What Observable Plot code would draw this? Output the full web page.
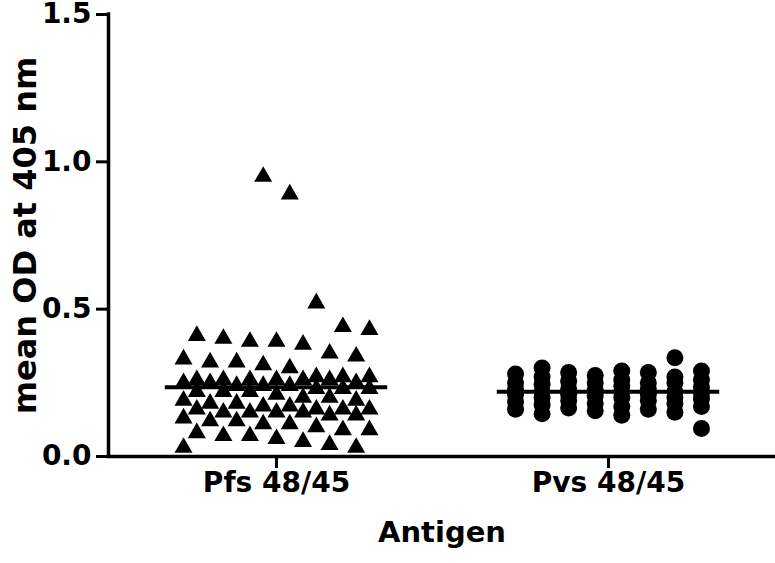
<!DOCTYPE html>
<html><head><meta charset="utf-8">
<script src="https://cdn.jsdelivr.net/npm/d3@7"></script>
<script src="https://cdn.jsdelivr.net/npm/@observablehq/plot@0.6"></script>
<style>
  html, body { margin: 0; padding: 0; background: #fff; }
  #chart svg { display: block; }
</style>
</head><body><div id="chart"></div>
<script>
// ---- data ----
const groups = ["Pfs 48/45", "Pvs 48/45"];
const symbols = ["triangle", "circle"];
const pfsValues = [
  0.95, 0.89, 0.52,
  0.44, 0.43,
  0.41, 0.40, 0.39, 0.39, 0.38,
  0.35, 0.34, 0.33, 0.32, 0.32, 0.31, 0.30,
  0.27, 0.27, 0.27, 0.26, 0.26, 0.26, 0.26, 0.26, 0.26, 0.25, 0.25, 0.25,
  0.24, 0.24, 0.24, 0.23, 0.23, 0.23, 0.22, 0.22, 0.22,
  0.21, 0.20, 0.20, 0.19, 0.19, 0.18, 0.18,
  0.17, 0.17, 0.16, 0.16, 0.16, 0.16, 0.15, 0.15, 0.15, 0.15, 0.14, 0.14,
  0.13, 0.12, 0.12, 0.11, 0.11, 0.10,
  0.09, 0.09, 0.08, 0.07, 0.07, 0.06, 0.05, 0.04, 0.03, 0.03
];
const pvsValues = [
  0.335,
  0.30, 0.29, 0.29, 0.285, 0.285, 0.28, 0.275, 0.27, 0.27,
  0.26, 0.26, 0.255, 0.25, 0.25, 0.25, 0.25, 0.245, 0.24,
  0.235, 0.23, 0.23, 0.23, 0.225, 0.22, 0.22, 0.22, 0.215, 0.21, 0.21, 0.21,
  0.205, 0.20, 0.20, 0.20, 0.195, 0.19, 0.19, 0.185, 0.18, 0.18,
  0.175, 0.17, 0.17, 0.165, 0.16, 0.16, 0.155, 0.15, 0.145, 0.14,
  0.095
];
const yTicks = [0, 0.5, 1.0, 1.5];
const yLabel = "mean OD at 405 nm";
const xLabel = "Antigen";

// ---- layout (column scatter like the original software) ----
const FONT = "'DejaVu Sans', Verdana, sans-serif";
const xDomain = [-0.506, 1.503];
// round-robin the ranked values over columns, stepping k columns each time
function columnLayout(values, gi, nCols, colStep, k, c0) {
  const sorted = values.slice().sort((a, b) => b - a);
  const mid = (nCols - 1) / 2;
  return sorted.map((v, i) => {
    const c = (c0 + i * k) % nCols;
    return {group: gi, value: v, x: gi + (c - mid) * colStep};
  });
}
const pfsPts = columnLayout(pfsValues, 0, 15, 0.040, 2, 6);
const pvsPts = columnLayout(pvsValues, 1, 8, 0.080, 3, 6);
const means = [
  {group: 0, value: d3.mean(pfsValues)},
  {group: 1, value: d3.mean(pvsValues)}
];
const halfLine = 0.335;

const chart = Plot.plot({
  width: 775,
  height: 563,
  marginLeft: 108,
  marginRight: 0,
  marginTop: 14,
  marginBottom: 107,
  style: {fontFamily: FONT, background: "#fff", color: "#000"},
  x: {domain: xDomain, axis: null},
  y: {domain: [0, 1.5], axis: null},
  marks: [
    Plot.dot(pfsPts, {x: "x", y: "value", symbol: () => symbols[0], r: 6.7, fill: "#000", stroke: "none"}),
    Plot.dot(pvsPts, {x: "x", y: "value", symbol: () => symbols[1], r: 8.5, fill: "#000", stroke: "none"}),
    Plot.ruleY(means, {y: "value", x1: d => d.group - halfLine, x2: d => d.group + halfLine, stroke: "#000", strokeWidth: 4}),
    Plot.ruleX([xDomain[0]], {stroke: "#000", strokeWidth: 3.5, strokeLinecap: "square"}),
    Plot.ruleY([0], {stroke: "#000", strokeWidth: 3.5, strokeLinecap: "square"}),
    Plot.axisY({ticks: yTicks, tickFormat: d3.format(".1f"), tickSize: 12, tickPadding: 5, strokeWidth: 3, fontSize: 28, fontWeight: "bold", label: null, fill: "#000", stroke: "#000"}),
    Plot.axisX({ticks: [0, 1], tickFormat: i => groups[i], tickSize: 12, tickPadding: 4, strokeWidth: 3, fontSize: 28, fontWeight: "bold", label: null, fill: "#000", stroke: "#000"}),
    Plot.text([yLabel], {frameAnchor: "left", textAnchor: "middle", rotate: -90, dx: -83, fontSize: 32, fontWeight: "bold", fill: "#000", text: d => d}),
    Plot.text([xLabel], {frameAnchor: "bottom", textAnchor: "middle", dy: 85, fontSize: 29, fontWeight: "bold", fill: "#000", text: d => d})
  ]
});
document.getElementById("chart").appendChild(chart);
</script>
</body></html>
